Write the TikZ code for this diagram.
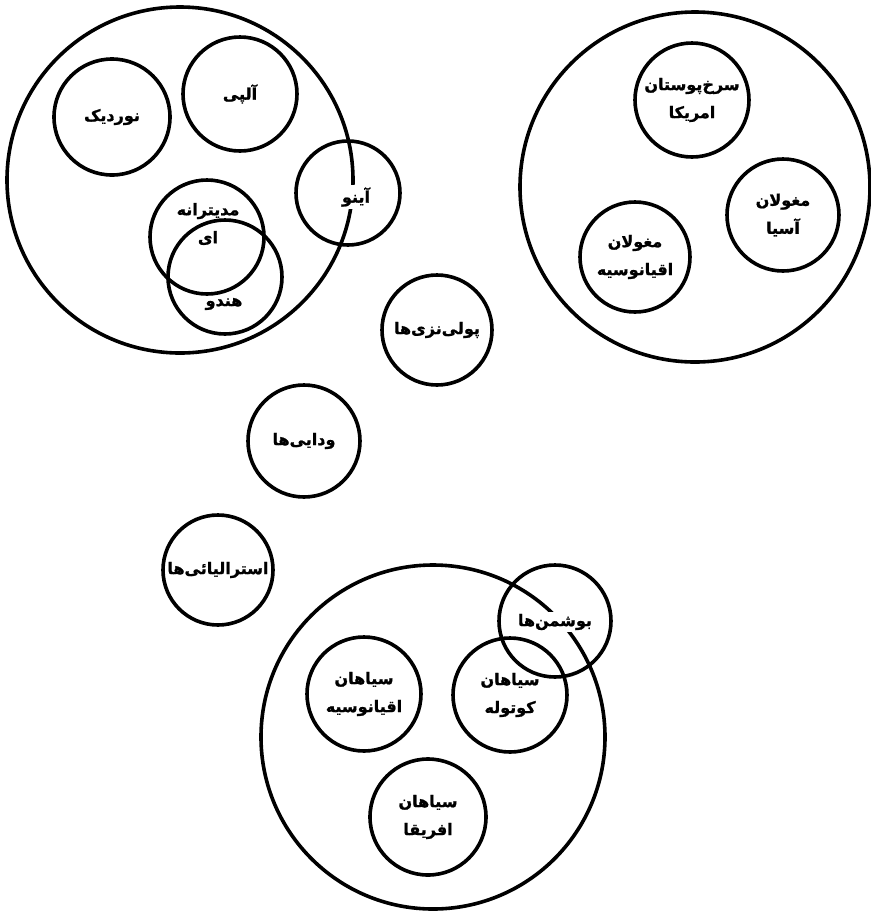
\documentclass[tikz,border=0pt]{standalone}
\usepackage{fontspec}
\newfontfamily\arabicfont[Script=Arabic,BoldFont={DejaVu Sans Bold},BoldFeatures={FakeBold=1.2}]{DejaVu Sans}
\TeXXeTstate=1
\newcommand{\fa}[1]{\beginR #1\endR}
\begin{document}
\begin{tikzpicture}[x=1pt,y=-1pt,
  ring/.style={circle, draw, line width=3.6pt, inner sep=0pt, minimum size=#1},
  lbl/.style={font=\arabicfont\bfseries\fontsize{16}{28}\selectfont, align=center, inner sep=0pt},
  gap/.style={fill=white, inner sep=2pt}]
\useasboundingbox[fill=white] (0,0) rectangle (871,914);
% big groups
\node[ring=346pt] (cauc) at (180,180) {};
\node[ring=350pt] (mong) at (695,187) {};
\node[ring=344pt] (negr) at (433,737) {};
% caucasoid members
\node[ring=116pt, lbl] (nordic) at (112,117) {\fa{نوردیک}};
\node[ring=114pt, lbl] (alp) at (240,94) {\fa{آلپی}};
\node[ring=104pt] (ainu) at (348,193) {};
\node[lbl, gap] (ainut) at (356,197) {\fa{آینو}};
\node[ring=114pt] (medit) at (207,237) {};
\node[ring=114pt] (hindu) at (225,277) {};
\node[lbl] (meditt) at (208,224) {\fa{مدیترانه}\\\fa{ای}};
\node[lbl, gap] (hindut) at (224,304) {\fa{هندو}};
% mongoloid members
\node[ring=114pt, lbl] (amer) at (692,100) {\fa{سرخ‌پوستان}\\\fa{امریکا}};
\node[ring=112pt, lbl] (asia) at (783,215) {\fa{مغولان}\\\fa{آسیا}};
\node[ring=110pt, lbl] (ocmong) at (635,257) {\fa{مغولان}\\\fa{اقیانوسیه}};
% free members
\node[ring=110pt, lbl] (poly) at (437,330) {\fa{پولی‌نزی‌ها}};
\node[ring=112pt, lbl] (vedda) at (304,441) {\fa{ودایی‌ها}};
\node[ring=110pt, lbl] (austr) at (218,570) {\fa{استرالیائی‌ها}};
% negroid members
\node[ring=112pt, lbl] (bush) at (555,621) {};
\node[lbl, gap] (busht) at (555,622) {\fa{بوشمن‌ها}};
\node[ring=114pt, lbl] (ocneg) at (364,694) {\fa{سیاهان}\\\fa{اقیانوسیه}};
\node[ring=114pt, lbl] (negrito) at (510,695) {\fa{سیاهان}\\\fa{کوتوله}};
\node[ring=116pt, lbl] (afr) at (428,817) {\fa{سیاهان}\\\fa{افریقا}};
\end{tikzpicture}
\end{document}
